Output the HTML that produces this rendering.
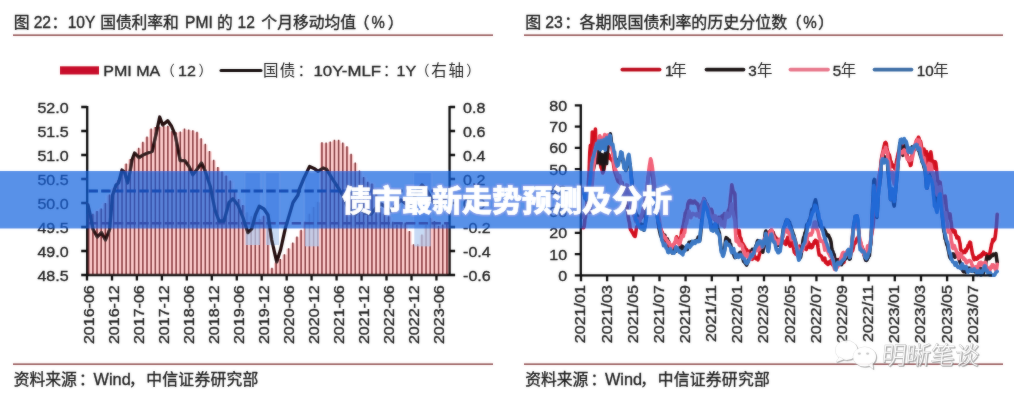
<!DOCTYPE html>
<html lang="zh-CN">
<head>
<meta charset="utf-8">
<title>债市最新走势预测及分析</title>
<style>
html,body{margin:0;padding:0;background:#fff;}
body{width:1014px;height:400px;overflow:hidden;font-family:"Liberation Sans",sans-serif;}
#page{position:relative;width:1014px;height:400px;overflow:hidden;background:#fff;}
svg{display:block;position:absolute;left:0;top:0;will-change:transform;}
svg text{font-family:"Liberation Sans",sans-serif;stroke:#242424;stroke-width:.35px;}
svg text.cjk{font-family:"Liberation Sans","Noto Sans CJK SC",sans-serif;}
</style>
</head>
<body>
<div id="page">
<svg width="1014" height="400" viewBox="0 0 1014 400" font-family="'Liberation Sans', sans-serif"><defs><filter id="soft" filterUnits="userSpaceOnUse" x="-10" y="-10" width="1034" height="420"><feGaussianBlur stdDeviation="0.8" result="b"/><feComposite in="SourceGraphic" in2="b" operator="arithmetic" k1="0" k2="0.68" k3="0.32" k4="0"/></filter><filter id="wmsh" x="-10%" y="-20%" width="120%" height="150%"><feDropShadow dx="0.9" dy="0.9" stdDeviation="0.55" flood-color="#6e6e6e" flood-opacity="0.75"/></filter></defs><g filter="url(#soft)"><text class="cjk" x="13.65" y="28.30" font-size="15.8" fill="#242424">图</text>
<text x="33.70" y="28.30" font-size="15.60" fill="#242424">22</text>
<text class="cjk" x="51.58" y="28.30" font-size="15.8" fill="#242424">：</text>
<text x="67.70" y="28.30" font-size="15.60" fill="#242424">10Y</text>
<text class="cjk" x="100.20 115.90 131.60 147.30 163.00" y="28.30" font-size="15.8" fill="#242424">国债利率和</text>
<text x="185.10" y="28.30" font-size="15.60" fill="#242424">PMI</text>
<text class="cjk" x="217.12" y="28.30" font-size="15.8" fill="#242424">的</text>
<text x="237.50" y="28.30" font-size="15.60" fill="#242424">12</text>
<text class="cjk" x="261.33 277.13 292.93 308.73 324.53 340.33" y="28.30" font-size="15.8" fill="#242424">个月移动均值</text>
<text class="cjk" x="353.64" y="28.30" font-size="15.8" fill="#242424">（</text>
<text transform="translate(371.60 28.30) scale(0.960 1)" font-size="15.60" fill="#242424">%</text>
<text class="cjk" x="387.66" y="28.30" font-size="15.8" fill="#242424">）</text>
<text class="cjk" x="525.24" y="28.30" font-size="16" fill="#242424">图</text>
<text x="545.20" y="28.30" font-size="15.80" fill="#242424">23</text>
<text class="cjk" x="564.34" y="28.30" font-size="16" fill="#242424">：</text>
<text class="cjk" x="579.57 595.54 611.51 627.48 643.45 659.42 675.39 691.36 707.33 723.30 739.27 755.24 771.21" y="28.30" font-size="16" fill="#242424">各期限国债利率的历史分位数</text>
<text class="cjk" x="785.80" y="28.30" font-size="16" fill="#242424">（</text>
<text transform="translate(803.20 28.30) scale(0.960 1)" font-size="15.80" fill="#242424">%</text>
<text class="cjk" x="817.90" y="28.30" font-size="16" fill="#242424">）</text>
<path d="M13 35.2H493 M13 364.2H493" stroke="#7c2a2f" stroke-width="1.3" fill="none"/>
<path d="M524 35.2H1003 M524 364.2H1003" stroke="#7c2a2f" stroke-width="1.3" fill="none"/>
<text class="cjk" x="13.74 29.49 45.24 60.99" y="384.60" font-size="15.8" fill="#242424">资料来源</text>
<text class="cjk" x="79.08" y="384.60" font-size="15.8" fill="#242424">：</text>
<text x="93.60" y="384.60" font-size="16.30" fill="#242424">Wind</text>
<text class="cjk" x="128.88" y="384.60" font-size="15.8" fill="#242424">，</text>
<text class="cjk" x="146.23 162.28 178.33 194.38 210.43 226.48 242.53" y="384.60" font-size="15.8" fill="#242424">中信证券研究部</text>
<text class="cjk" x="525.14 540.89 556.64 572.39" y="384.60" font-size="15.8" fill="#242424">资料来源</text>
<text class="cjk" x="590.48" y="384.60" font-size="15.8" fill="#242424">：</text>
<text x="605.00" y="384.60" font-size="16.30" fill="#242424">Wind</text>
<text class="cjk" x="640.28" y="384.60" font-size="15.8" fill="#242424">，</text>
<text class="cjk" x="657.63 673.68 689.73 705.78 721.83 737.88 753.93" y="384.60" font-size="15.8" fill="#242424">中信证券研究部</text>
<path d="M87.5 275.0L86.6 214.0L90.8 214.0L90.8 214.4L94.9 214.4L95.0 211.6L99.1 211.6L99.1 209.2L103.3 209.2L103.3 203.6L107.4 203.6L107.4 195.2L111.6 195.2L111.6 188.4L115.8 188.4L115.8 180.8L119.9 180.8L119.9 170.4L124.1 170.4L124.1 164.0L128.3 164.0L128.3 159.6L132.4 159.6L132.4 155.2L136.6 155.2L136.6 148.4L140.8 148.4L140.8 142.4L144.9 142.4L144.9 137.2L149.1 137.2L149.1 129.2L153.3 129.2L153.3 127.6L157.4 127.6L157.4 127.2L161.6 127.2L161.6 126.4L165.8 126.4L165.8 126.4L169.9 126.4L169.9 131.6L174.1 131.6L174.1 132.8L178.2 132.8L178.2 132.0L182.4 132.0L182.4 129.2L186.6 129.2L186.6 130.0L190.7 130.0L190.7 130.8L194.9 130.8L194.9 132.4L199.1 132.4L199.1 138.8L203.2 138.8L203.2 144.4L207.4 144.4L207.4 151.6L211.6 151.6L211.6 160.4L215.7 160.4L215.7 167.6L219.9 167.6L219.9 172.0L224.1 172.0L224.1 176.0L228.2 176.0L228.2 181.2L232.4 181.2L232.4 191.2L236.6 191.2L236.6 199.6L240.7 199.6L240.7 205.6L244.9 205.6L244.9 212.8L249.1 212.8L249.1 216.8L253.2 216.8L253.2 220.4L257.4 220.4L257.4 219.6L261.5 219.6L261.6 216.4L265.7 216.4L265.7 214.4L269.9 214.4L269.9 268.4L274.0 268.4L274.0 262.4L278.2 262.4L278.2 259.6L282.4 259.6L282.4 254.8L286.5 254.8L286.5 248.8L290.7 248.8L290.7 243.2L294.9 243.2L294.9 237.2L299.0 237.2L299.0 230.4L303.2 230.4L303.2 222.0L307.4 222.0L307.4 214.4L311.5 214.4L311.5 207.6L315.7 207.6L315.7 202.4L319.9 202.4L319.9 142.8L324.0 142.8L324.0 143.2L328.2 143.2L328.2 142.0L332.3 142.0L332.4 140.4L336.5 140.4L336.5 140.4L340.7 140.4L340.7 143.2L344.8 143.2L344.9 146.8L349.0 146.8L349.0 154.4L353.2 154.4L353.2 163.2L357.3 163.2L357.3 171.2L361.5 171.2L361.5 177.6L365.7 177.6L365.7 182.4L369.8 182.4L369.8 184.0L374.0 184.0L374.0 193.6L378.2 193.6L378.2 208.4L382.3 208.4L382.3 214.0L386.5 214.0L386.5 216.8L390.7 216.8L390.7 222.4L394.8 222.4L394.8 225.2L399.0 225.2L399.0 223.2L403.2 223.2L403.2 223.2L407.3 223.2L407.3 231.6L411.5 231.6L411.5 244.8L415.6 244.8L415.7 244.8L419.8 244.8L419.8 235.2L424.0 235.2L424.0 225.6L428.1 225.6L428.2 218.4L432.3 218.4L432.3 221.6L436.5 221.6L436.5 226.4L440.6 226.4L440.6 225.2L444.8 225.2L444.8 224.0L449.0 224.0L449.0 275.0Z" fill="#fccaca"/>
<path d="M88.70 275.0V213.4M92.87 275.0V213.8M97.03 275.0V211.0M101.20 275.0V208.6M105.36 275.0V203.0M109.53 275.0V194.6M113.69 275.0V187.8M117.86 275.0V180.2M122.02 275.0V169.8M126.19 275.0V163.4M130.35 275.0V159.0M134.51 275.0V154.6M138.68 275.0V147.8M142.84 275.0V141.8M147.01 275.0V136.6M151.18 275.0V128.6M155.34 275.0V127.0M159.50 275.0V126.6M163.67 275.0V125.8M167.84 275.0V125.8M172.00 275.0V131.0M176.17 275.0V132.2M180.33 275.0V131.4M184.50 275.0V128.6M188.66 275.0V129.4M192.82 275.0V130.2M196.99 275.0V131.8M201.16 275.0V138.2M205.32 275.0V143.8M209.49 275.0V151.0M213.65 275.0V159.8M217.81 275.0V167.0M221.98 275.0V171.4M226.14 275.0V175.4M230.31 275.0V180.6M234.48 275.0V190.6M238.64 275.0V199.0M242.81 275.0V205.0M246.97 275.0V212.2M251.13 275.0V216.2M255.30 275.0V219.8M259.47 275.0V219.0M263.63 275.0V215.8M267.80 275.0V213.8M271.96 275.0V267.8M276.12 275.0V261.8M280.29 275.0V259.0M284.45 275.0V254.2M288.62 275.0V248.2M292.79 275.0V242.6M296.95 275.0V236.6M301.12 275.0V229.8M305.28 275.0V221.4M309.44 275.0V213.8M313.61 275.0V207.0M317.77 275.0V201.8M321.94 275.0V142.2M326.11 275.0V142.6M330.27 275.0V141.4M334.44 275.0V139.8M338.60 275.0V139.8M342.76 275.0V142.6M346.93 275.0V146.2M351.09 275.0V153.8M355.26 275.0V162.6M359.43 275.0V170.6M363.59 275.0V177.0M367.75 275.0V181.8M371.92 275.0V183.4M376.08 275.0V193.0M380.25 275.0V207.8M384.41 275.0V213.4M388.58 275.0V216.2M392.75 275.0V221.8M396.91 275.0V224.6M401.07 275.0V222.6M405.24 275.0V222.6M409.40 275.0V231.0M413.57 275.0V244.2M417.74 275.0V244.2M421.90 275.0V234.6M426.06 275.0V225.0M430.23 275.0V217.8M434.39 275.0V221.0M438.56 275.0V225.8M442.72 275.0V224.6M446.89 275.0V223.4" stroke="#7c1c24" stroke-width="1.45" fill="none"/>
<rect x="245.5" y="173" width="14.5" height="72" fill="#b4cdf0" fill-opacity="0.74"/>
<rect x="266" y="173" width="13" height="72" fill="#b4cdf0" fill-opacity="0.74"/>
<rect x="305" y="173" width="14" height="73.4" fill="#b4cdf0" fill-opacity="0.74"/>
<rect x="414.3" y="173" width="16.5" height="73.4" fill="#b4cdf0" fill-opacity="0.74"/>
<path d="M88.5 191H449" stroke="#0a1a55" stroke-width="3.1" stroke-dasharray="9.4 3.3" fill="none"/>
<path d="M88.5 223.2H449" stroke="#7a1f3c" stroke-width="2.6" stroke-dasharray="9.4 3.3" fill="none"/>
<path d="M88.0 205.0L90.5 216.0L93.1 229.5L97.3 237.0L101.4 232.5L105.5 240.0L109.6 229.5L112.6 195.0L116.0 185.0L118.5 183.0L122.0 170.0L124.5 172.0L127.6 183.0L130.0 172.0L132.0 160.0L134.6 153.0L139.0 157.6L143.0 155.0L147.7 153.0L152.2 151.4L156.4 132.6L159.7 117.0L162.7 125.0L167.7 120.8L171.5 126.3L175.2 135.0L180.2 160.6L184.7 160.6L189.0 166.4L192.8 174.7L197.3 169.0L201.5 163.0L204.8 170.0L210.3 186.4L215.0 210.0L219.0 221.0L224.0 221.0L229.0 202.5L232.9 198.8L237.9 205.0L242.9 217.5L247.9 232.6L251.7 228.8L255.4 215.0L259.2 206.3L264.0 209.0L268.0 215.0L271.7 240.0L276.7 262.0L280.5 250.0L285.5 227.6L293.0 202.5L298.0 195.0L299.0 190.0L304.0 178.0L309.6 166.4L314.0 168.4L318.0 171.4L323.0 168.0L326.6 169.4L331.6 177.7L339.0 189.0L343.0 196.0L347.0 206.0L351.0 212.0L356.0 214.0L360.0 209.0L365.0 213.0L371.0 214.0L376.0 208.0L381.0 204.0L386.0 207.0L391.0 211.0L396.0 205.0L401.0 200.0L406.0 204.0L410.0 207.0L414.0 198.0L418.0 190.0L422.0 185.0L426.0 189.0L430.0 196.0L434.0 203.0L438.0 204.0L442.0 200.0L446.0 198.0" stroke="#220d0f" stroke-width="3.3" stroke-linejoin="round" stroke-linecap="round" fill="none"/>
<path d="M87.2 106.0V276.0M81.2 107.0H87.2M81.2 131.0H87.2M81.2 155.0H87.2M81.2 179.0H87.2M81.2 203.0H87.2M81.2 227.0H87.2M81.2 251.0H87.2M81.2 275.0H87.2M449.6 106.0V276.0M449.6 107.0H455.1M449.6 131.0H455.1M449.6 155.0H455.1M449.6 179.0H455.1M449.6 203.0H455.1M449.6 227.0H455.1M449.6 251.0H455.1M449.6 275.0H455.1M86.2 275.0H450.6M87.0 275.0V280.6M112.0 275.0V280.6M136.9 275.0V280.6M161.9 275.0V280.6M186.8 275.0V280.6M211.8 275.0V280.6M236.8 275.0V280.6M261.7 275.0V280.6M286.7 275.0V280.6M311.6 275.0V280.6M336.6 275.0V280.6M361.6 275.0V280.6M386.5 275.0V280.6M411.5 275.0V280.6M436.4 275.0V280.6" stroke="#0a0a0a" stroke-width="2.3" fill="none"/>
<text transform="translate(68.60 112.60) scale(1.070 1)" font-size="15.00" text-anchor="end" fill="#242424">52.0</text>
<text transform="translate(68.60 136.60) scale(1.070 1)" font-size="15.00" text-anchor="end" fill="#242424">51.5</text>
<text transform="translate(68.60 160.60) scale(1.070 1)" font-size="15.00" text-anchor="end" fill="#242424">51.0</text>
<text transform="translate(68.60 184.60) scale(1.070 1)" font-size="15.00" text-anchor="end" fill="#242424">50.5</text>
<text transform="translate(68.60 208.60) scale(1.070 1)" font-size="15.00" text-anchor="end" fill="#242424">50.0</text>
<text transform="translate(68.60 232.60) scale(1.070 1)" font-size="15.00" text-anchor="end" fill="#242424">49.5</text>
<text transform="translate(68.60 256.60) scale(1.070 1)" font-size="15.00" text-anchor="end" fill="#242424">49.0</text>
<text transform="translate(68.60 280.60) scale(1.070 1)" font-size="15.00" text-anchor="end" fill="#242424">48.5</text>
<text transform="translate(463.10 112.60) scale(1.070 1)" font-size="15.00" text-anchor="start" fill="#242424">0.8</text>
<text transform="translate(463.10 136.60) scale(1.070 1)" font-size="15.00" text-anchor="start" fill="#242424">0.6</text>
<text transform="translate(463.10 160.60) scale(1.070 1)" font-size="15.00" text-anchor="start" fill="#242424">0.4</text>
<text transform="translate(463.10 184.60) scale(1.070 1)" font-size="15.00" text-anchor="start" fill="#242424">0.2</text>
<text transform="translate(463.10 208.60) scale(1.070 1)" font-size="15.00" text-anchor="start" fill="#242424">0.0</text>
<text transform="translate(463.10 232.60) scale(1.070 1)" font-size="15.00" text-anchor="start" fill="#242424">-0.2</text>
<text transform="translate(463.10 256.60) scale(1.070 1)" font-size="15.00" text-anchor="start" fill="#242424">-0.4</text>
<text transform="translate(463.10 280.60) scale(1.070 1)" font-size="15.00" text-anchor="start" fill="#242424">-0.6</text>
<text transform="translate(94.30 285.20) rotate(-90) scale(1.07 1)" stroke-width="0.2" font-size="15.0" text-anchor="end" fill="#242424">2016-06</text>
<text transform="translate(119.26 285.20) rotate(-90) scale(1.07 1)" stroke-width="0.2" font-size="15.0" text-anchor="end" fill="#242424">2016-12</text>
<text transform="translate(144.22 285.20) rotate(-90) scale(1.07 1)" stroke-width="0.2" font-size="15.0" text-anchor="end" fill="#242424">2017-06</text>
<text transform="translate(169.18 285.20) rotate(-90) scale(1.07 1)" stroke-width="0.2" font-size="15.0" text-anchor="end" fill="#242424">2017-12</text>
<text transform="translate(194.14 285.20) rotate(-90) scale(1.07 1)" stroke-width="0.2" font-size="15.0" text-anchor="end" fill="#242424">2018-06</text>
<text transform="translate(219.10 285.20) rotate(-90) scale(1.07 1)" stroke-width="0.2" font-size="15.0" text-anchor="end" fill="#242424">2018-12</text>
<text transform="translate(244.06 285.20) rotate(-90) scale(1.07 1)" stroke-width="0.2" font-size="15.0" text-anchor="end" fill="#242424">2019-06</text>
<text transform="translate(269.02 285.20) rotate(-90) scale(1.07 1)" stroke-width="0.2" font-size="15.0" text-anchor="end" fill="#242424">2019-12</text>
<text transform="translate(293.98 285.20) rotate(-90) scale(1.07 1)" stroke-width="0.2" font-size="15.0" text-anchor="end" fill="#242424">2020-06</text>
<text transform="translate(318.94 285.20) rotate(-90) scale(1.07 1)" stroke-width="0.2" font-size="15.0" text-anchor="end" fill="#242424">2020-12</text>
<text transform="translate(343.90 285.20) rotate(-90) scale(1.07 1)" stroke-width="0.2" font-size="15.0" text-anchor="end" fill="#242424">2021-06</text>
<text transform="translate(368.86 285.20) rotate(-90) scale(1.07 1)" stroke-width="0.2" font-size="15.0" text-anchor="end" fill="#242424">2021-12</text>
<text transform="translate(393.82 285.20) rotate(-90) scale(1.07 1)" stroke-width="0.2" font-size="15.0" text-anchor="end" fill="#242424">2022-06</text>
<text transform="translate(418.78 285.20) rotate(-90) scale(1.07 1)" stroke-width="0.2" font-size="15.0" text-anchor="end" fill="#242424">2022-12</text>
<text transform="translate(443.74 285.20) rotate(-90) scale(1.07 1)" stroke-width="0.2" font-size="15.0" text-anchor="end" fill="#242424">2023-06</text>
<rect x="60" y="66.3" width="39" height="8.2" fill="#c8102a"/>
<text transform="translate(103.30 75.70) scale(1.070 1)" font-size="15.00" fill="#242424">PMI MA</text>
<text class="cjk" x="160.67" y="75.10" font-size="14" fill="#242424" style="stroke:none">（</text>
<text class="cjk" x="198.53" y="75.10" font-size="14" fill="#242424" style="stroke:none">）</text>
<text transform="translate(178.00 75.70) scale(1.070 1)" font-size="15.00" fill="#242424">12</text>
<path d="M221 70.6H261" stroke="#141010" stroke-width="3" stroke-linecap="round" fill="none"/>
<text class="cjk" x="262.97 279.73" y="75.70" font-size="15.5" fill="#242424" style="stroke:none">国债</text>
<text class="cjk" x="297.50" y="75.70" font-size="15.5" fill="#242424" style="stroke:none">：</text>
<text class="cjk" x="382.70" y="75.70" font-size="15.5" fill="#242424" style="stroke:none">：</text>
<text class="cjk" x="415.47" y="75.10" font-size="14" fill="#242424" style="stroke:none">（</text>
<text class="cjk" x="431.22 448.52" y="75.70" font-size="15.5" fill="#242424" style="stroke:none">右轴</text>
<text class="cjk" x="466.23" y="75.10" font-size="14" fill="#242424" style="stroke:none">）</text>
<text transform="translate(313.50 75.70) scale(1.120 1)" font-size="15.00" fill="#242424">10Y-MLF</text>
<text transform="translate(396.50 75.70) scale(1.070 1)" font-size="15.00" fill="#242424">1Y</text>
<path d="M583.0 227.6L583.6 227.7L584.2 226.5L584.9 219.0L585.5 216.9L586.1 209.6L586.7 207.4L587.3 197.8L588.0 191.7L588.6 179.6L589.2 169.5L589.8 152.3L590.4 145.4L591.1 159.0L591.7 148.4L592.3 132.1L592.9 148.3L593.5 132.2L594.2 139.2L594.8 145.6L595.4 129.0L596.0 148.3L596.6 149.5L597.3 140.3L597.9 155.9L598.5 158.6L599.1 160.8L599.7 161.6L600.4 164.2L601.0 167.2L601.6 168.2L602.2 170.8L602.8 172.9L603.5 171.3L604.1 167.7L604.7 164.6L605.3 159.8L605.9 158.1L606.6 157.5L607.2 154.8L607.8 154.7L608.4 154.3L609.0 154.9L609.7 158.5L610.3 158.3L610.9 158.9L611.5 159.1L612.1 160.6L612.8 159.1L613.4 163.7L614.0 167.4L614.6 171.4L615.2 173.2L615.9 175.3L616.5 176.8L617.1 178.8L617.7 180.4L618.3 181.6L619.0 181.5L619.6 182.6L620.2 181.6L620.8 183.6L621.4 183.1L622.1 182.6L622.7 186.3L623.3 188.7L623.9 192.8L624.5 195.4L625.2 198.2L625.8 197.1L626.4 201.2L627.0 206.9L627.6 212.4L628.3 217.2L628.9 220.8L629.5 222.7L630.1 228.1L630.7 229.9L631.4 230.1L632.0 232.1L632.6 232.6L633.2 234.0L633.8 235.1L634.5 236.1L635.1 236.4L635.7 233.1L636.3 229.0L636.9 226.8L637.6 225.5L638.2 225.4L638.8 224.4L639.4 221.5L640.0 219.1L640.7 216.9L641.3 217.7L641.9 217.1L642.5 215.8L643.1 212.8L643.8 208.8L644.4 206.7L645.0 204.2L645.6 204.4L646.2 200.7L646.9 193.2L647.5 183.9L648.1 177.9L648.7 175.2L649.3 170.4L650.0 167.8L650.6 163.5L651.2 163.7L651.8 168.8L652.4 175.7L653.1 180.6L653.7 189.2L654.3 192.1L654.9 197.7L655.5 200.7L656.2 207.9L656.8 211.0L657.4 214.4L658.0 218.0L658.6 224.3L659.3 228.4L659.9 225.3L660.5 228.6L661.1 229.4L661.7 231.5L662.4 232.5L663.0 236.4L663.6 235.8L664.2 236.7L664.8 237.4L665.5 240.4L666.1 241.9L666.7 241.9L667.3 244.9L667.9 245.4L668.6 249.2L669.2 248.4L669.8 248.0L670.4 247.2L671.0 249.2L671.7 248.9L672.3 248.4L672.9 246.7L673.5 245.3L674.1 244.5L674.8 242.8L675.4 242.1L676.0 240.1L676.6 236.8L677.2 238.8L677.9 238.6L678.5 239.1L679.1 240.7L679.7 242.8L680.3 240.3L681.0 236.6L681.6 231.7L682.2 229.8L682.8 226.6L683.4 225.0L684.1 220.5L684.7 217.2L685.3 213.0L685.9 212.6L686.5 210.4L687.2 210.8L687.8 204.2L688.4 202.6L689.0 201.1L689.6 203.0L690.3 200.6L690.9 201.1L691.5 201.1L692.1 202.8L692.7 201.5L693.4 202.9L694.0 202.0L694.6 201.1L695.2 202.3L695.8 202.2L696.5 203.7L697.1 203.4L697.7 204.0L698.3 206.1L698.9 208.8L699.6 211.9L700.2 213.9L700.8 211.3L701.4 206.7L702.0 204.2L702.7 202.5L703.3 201.1L703.9 198.7L704.5 201.8L705.1 202.6L705.8 204.0L706.4 206.7L707.0 207.7L707.6 211.3L708.2 210.5L708.9 213.5L709.5 210.8L710.1 209.7L710.7 209.2L711.3 209.3L712.0 210.9L712.6 215.6L713.2 215.3L713.8 215.9L714.4 219.5L715.1 219.1L715.7 219.4L716.3 222.3L716.9 223.0L717.5 220.5L718.2 220.7L718.8 217.2L719.4 218.6L720.0 217.8L720.6 219.0L721.3 217.5L721.9 216.1L722.5 219.4L723.1 215.7L723.7 215.2L724.4 213.7L725.0 214.5L725.6 215.2L726.2 215.2L726.8 214.4L727.5 214.3L728.1 211.3L728.7 209.7L729.3 209.1L729.9 205.1L730.6 196.9L731.2 192.1L731.8 184.9L732.4 187.8L733.0 190.8L733.7 192.2L734.3 192.7L734.9 194.2L735.5 211.9L736.1 229.1L736.8 233.1L737.4 231.9L738.0 232.5L738.6 232.8L739.2 230.6L739.9 237.2L740.5 237.8L741.1 239.2L741.7 243.2L742.3 243.0L743.0 244.0L743.6 244.8L744.2 247.3L744.8 247.0L745.4 249.9L746.1 249.1L746.7 249.9L747.3 251.5L747.9 251.3L748.5 251.8L749.2 251.9L749.8 251.1L750.4 252.8L751.0 255.6L751.6 257.1L752.3 259.4L752.9 256.8L753.5 255.8L754.1 254.4L754.7 257.9L755.4 257.5L756.0 258.6L756.6 257.7L757.2 258.6L757.8 259.8L758.5 258.5L759.1 255.6L759.7 253.7L760.3 250.5L760.9 247.7L761.6 243.5L762.2 245.1L762.8 245.3L763.4 245.8L764.0 244.8L764.7 242.5L765.3 241.8L765.9 238.9L766.5 236.9L767.1 234.6L767.8 233.1L768.4 234.5L769.0 235.7L769.6 231.5L770.2 231.2L770.9 230.3L771.5 230.3L772.1 231.8L772.7 232.0L773.3 232.7L774.0 235.3L774.6 235.6L775.2 237.8L775.8 237.5L776.4 239.0L777.1 238.8L777.7 244.0L778.3 243.3L778.9 242.8L779.5 241.7L780.2 240.7L780.8 240.5L781.4 241.1L782.0 240.4L782.6 241.7L783.3 241.0L783.9 242.7L784.5 243.5L785.1 242.2L785.7 244.4L786.4 240.5L787.0 239.4L787.6 237.4L788.2 240.8L788.8 241.5L789.5 245.0L790.1 246.1L790.7 243.7L791.3 242.0L791.9 243.5L792.6 244.3L793.2 246.1L793.8 249.5L794.4 252.5L795.0 252.2L795.7 254.2L796.3 254.5L796.9 254.7L797.5 251.9L798.1 249.3L798.8 247.2L799.4 246.1L800.0 248.5L800.6 249.3L801.2 248.9L801.9 250.6L802.5 249.5L803.1 248.9L803.7 248.8L804.3 247.7L805.0 248.2L805.6 248.7L806.2 249.5L806.8 248.0L807.4 242.4L808.1 241.8L808.7 243.1L809.3 245.8L809.9 247.4L810.5 244.4L811.2 247.7L811.8 247.5L812.4 247.1L813.0 244.8L813.6 243.9L814.3 241.6L814.9 242.6L815.5 240.3L816.1 243.0L816.7 241.4L817.4 241.3L818.0 247.5L818.6 251.4L819.2 254.9L819.8 254.8L820.5 255.6L821.1 255.9L821.7 256.7L822.3 258.4L822.9 259.9L823.6 259.0L824.2 259.2L824.8 258.1L825.4 262.3L826.0 261.4L826.7 263.5L827.3 262.4L827.9 264.5L828.5 262.3L829.1 263.7L829.8 261.6L830.4 262.4L831.0 260.4L831.6 262.8L832.2 264.1L832.9 265.1L833.5 263.8L834.1 264.3L834.7 261.5L835.3 262.0L836.0 262.4L836.6 262.1L837.2 259.7L837.8 261.6L838.4 263.2L839.1 263.3L839.7 262.9L840.3 262.2L840.9 261.7L841.5 262.0L842.2 261.9L842.8 260.2L843.4 262.6L844.0 262.2L844.6 258.1L845.3 255.5L845.9 257.1L846.5 254.4L847.1 253.1L847.7 254.2L848.4 254.3L849.0 254.2L849.6 254.8L850.2 253.3L850.8 250.7L851.5 250.0L852.1 251.4L852.7 250.4L853.3 247.6L853.9 244.7L854.6 242.3L855.2 243.2L855.8 242.0L856.4 239.7L857.0 238.4L857.7 239.0L858.3 236.7L858.9 238.9L859.5 239.3L860.1 242.6L860.8 243.1L861.4 246.7L862.0 246.7L862.6 249.7L863.2 250.7L863.9 250.9L864.5 254.1L865.1 253.8L865.7 255.4L866.3 256.3L867.0 253.7L867.6 252.4L868.2 251.5L868.8 249.4L869.4 249.8L870.1 247.6L870.7 241.7L871.3 236.4L871.9 232.7L872.5 229.6L873.2 224.1L873.8 216.9L874.4 212.1L875.0 205.7L875.6 199.6L876.3 196.5L876.9 190.7L877.5 186.8L878.1 181.5L878.7 178.2L879.4 176.0L880.0 171.0L880.6 166.8L881.2 160.7L881.8 156.5L882.5 153.3L883.1 151.3L883.7 147.9L884.3 145.8L884.9 143.0L885.6 142.5L886.2 143.3L886.8 147.3L887.4 150.7L888.0 152.5L888.7 155.1L889.3 154.9L889.9 157.4L890.5 161.4L891.1 161.5L891.8 165.3L892.4 166.7L893.0 165.0L893.6 166.6L894.2 167.1L894.9 168.9L895.5 166.9L896.1 164.1L896.7 160.2L897.3 157.6L898.0 153.8L898.6 151.8L899.2 150.5L899.8 149.2L900.4 149.3L901.1 148.2L901.7 148.9L902.3 146.5L902.9 145.5L903.5 148.2L904.2 149.5L904.8 152.0L905.4 152.6L906.0 151.0L906.6 151.9L907.3 156.2L907.9 157.7L908.5 159.7L909.1 162.2L909.7 162.4L910.4 165.5L911.0 164.9L911.6 160.8L912.2 154.1L912.8 152.3L913.5 150.5L914.1 147.5L914.7 145.7L915.3 145.2L915.9 142.7L916.6 140.1L917.2 140.9L917.8 138.9L918.4 137.3L919.0 138.3L919.7 142.5L920.3 140.9L920.9 142.8L921.5 146.8L922.1 152.2L922.8 156.2L923.4 152.5L924.0 149.1L924.6 152.2L925.2 162.7L925.9 157.1L926.5 151.6L927.1 157.5L927.7 165.5L928.3 158.8L929.0 154.3L929.6 163.0L930.2 160.8L930.8 151.8L931.4 155.6L932.1 162.8L932.7 162.6L933.3 161.1L933.9 166.9L934.5 168.2L935.2 161.9L935.8 163.1L936.4 168.2L937.0 175.1L937.6 180.6L938.3 184.5L938.9 182.2L939.5 181.9L940.1 182.3L940.7 187.2L941.4 192.6L942.0 199.3L942.6 202.8L943.2 202.5L943.8 197.7L944.5 196.3L945.1 196.1L945.7 200.8L946.3 207.9L946.9 210.8L947.6 217.1L948.2 218.0L948.8 217.9L949.4 215.8L950.0 213.9L950.7 220.0L951.3 223.3L951.9 230.4L952.5 231.0L953.1 231.8L953.8 230.2L954.4 232.4L955.0 230.9L955.6 234.6L956.2 235.4L956.9 238.0L957.5 236.7L958.1 237.2L958.7 237.6L959.3 241.0L960.0 243.5L960.6 249.9L961.2 250.0L961.8 252.0L962.4 253.1L963.1 252.3L963.7 251.6L964.3 251.1L964.9 252.5L965.5 249.8L966.2 251.0L966.8 248.6L967.4 248.7L968.0 245.5L968.6 246.4L969.3 243.3L969.9 242.2L970.5 242.5L971.1 246.7L971.7 249.6L972.4 253.8L973.0 255.2L973.6 258.5L974.2 259.7L974.8 258.5L975.5 257.7L976.1 258.1L976.7 259.1L977.3 258.3L977.9 258.5L978.6 256.3L979.2 255.9L979.8 257.0L980.4 257.0L981.0 254.9L981.7 256.0L982.3 253.5L982.9 254.5L983.5 252.2L984.1 253.0L984.8 253.7L985.4 253.8L986.0 255.0L986.6 254.0L987.2 255.6L987.9 256.3L988.5 256.0L989.1 254.5L989.7 254.2L990.3 250.6L991.0 247.8L991.6 244.1L992.2 242.6L992.8 239.5L993.4 241.1L994.1 239.9L994.7 239.3L995.3 236.1L995.9 230.7L996.5 225.1L997.2 214.4" stroke="#d3111f" stroke-width="3.6" stroke-linejoin="round" stroke-linecap="round" fill="none"/>
<path d="M583.0 191.2L583.6 193.1L584.2 192.9L584.9 197.7L585.5 196.0L586.1 198.0L586.7 200.4L587.3 198.0L588.0 195.7L588.6 193.4L589.2 191.6L589.8 190.0L590.4 184.4L591.1 179.5L591.7 177.0L592.3 172.1L592.9 169.9L593.5 169.0L594.2 165.5L594.8 163.2L595.4 159.4L596.0 160.5L596.6 162.3L597.3 162.6L597.9 159.3L598.5 153.2L599.1 149.4L599.7 156.7L600.4 163.8L601.0 161.4L601.6 154.5L602.2 155.6L602.8 159.6L603.5 169.8L604.1 162.7L604.7 155.3L605.3 153.3L605.9 158.2L606.6 163.5L607.2 155.9L607.8 149.0L608.4 145.5L609.0 139.8L609.7 137.7L610.3 133.9L610.9 137.3L611.5 143.1L612.1 145.7L612.8 149.3L613.4 153.7L614.0 158.1L614.6 157.0L615.2 158.9L615.9 160.9L616.5 162.0L617.1 163.1L617.7 161.8L618.3 159.8L619.0 159.8L619.6 158.2L620.2 159.6L620.8 157.0L621.4 157.5L622.1 158.3L622.7 158.5L623.3 162.6L623.9 164.2L624.5 165.3L625.2 168.7L625.8 170.5L626.4 168.2L627.0 166.5L627.6 162.6L628.3 160.5L628.9 157.1L629.5 163.4L630.1 164.2L630.7 170.9L631.4 177.3L632.0 182.2L632.6 190.9L633.2 196.9L633.8 202.5L634.5 207.6L635.1 211.0L635.7 212.6L636.3 215.9L636.9 215.1L637.6 216.3L638.2 219.5L638.8 222.1L639.4 223.6L640.0 224.6L640.7 227.3L641.3 224.0L641.9 225.9L642.5 224.7L643.1 226.6L643.8 230.2L644.4 226.7L645.0 225.3L645.6 220.5L646.2 215.0L646.9 212.6L647.5 208.1L648.1 206.6L648.7 203.3L649.3 199.5L650.0 195.9L650.6 194.4L651.2 193.1L651.8 191.4L652.4 192.6L653.1 195.8L653.7 199.0L654.3 200.8L654.9 202.8L655.5 205.6L656.2 212.0L656.8 212.1L657.4 216.2L658.0 221.6L658.6 225.2L659.3 229.6L659.9 232.6L660.5 235.1L661.1 236.7L661.7 237.5L662.4 240.3L663.0 237.9L663.6 238.2L664.2 236.7L664.8 235.1L665.5 237.9L666.1 238.6L666.7 241.0L667.3 238.8L667.9 240.8L668.6 241.7L669.2 244.1L669.8 245.6L670.4 249.7L671.0 249.3L671.7 249.5L672.3 253.0L672.9 250.3L673.5 250.2L674.1 247.7L674.8 249.5L675.4 250.4L676.0 251.2L676.6 250.5L677.2 250.1L677.9 248.3L678.5 249.5L679.1 248.9L679.7 249.1L680.3 247.3L681.0 248.4L681.6 245.9L682.2 246.3L682.8 249.6L683.4 248.8L684.1 247.6L684.7 248.2L685.3 248.2L685.9 247.1L686.5 246.6L687.2 249.6L687.8 246.1L688.4 246.1L689.0 242.2L689.6 243.6L690.3 243.5L690.9 242.0L691.5 241.6L692.1 242.7L692.7 242.1L693.4 241.7L694.0 242.9L694.6 242.7L695.2 241.5L695.8 240.6L696.5 241.2L697.1 240.3L697.7 239.1L698.3 237.0L698.9 239.2L699.6 240.7L700.2 237.8L700.8 232.1L701.4 224.8L702.0 216.1L702.7 211.5L703.3 206.7L703.9 205.8L704.5 199.4L705.1 201.4L705.8 203.4L706.4 203.6L707.0 204.3L707.6 206.1L708.2 209.2L708.9 213.4L709.5 216.2L710.1 219.0L710.7 225.0L711.3 228.6L712.0 228.9L712.6 228.3L713.2 225.2L713.8 227.4L714.4 226.7L715.1 225.5L715.7 223.9L716.3 224.1L716.9 224.4L717.5 227.3L718.2 229.8L718.8 231.4L719.4 233.2L720.0 239.6L720.6 245.2L721.3 250.0L721.9 251.5L722.5 251.0L723.1 253.3L723.7 252.8L724.4 251.0L725.0 245.6L725.6 240.0L726.2 237.7L726.8 238.3L727.5 238.8L728.1 239.7L728.7 241.1L729.3 240.2L729.9 244.7L730.6 244.1L731.2 247.9L731.8 249.2L732.4 250.0L733.0 253.0L733.7 254.2L734.3 256.2L734.9 257.6L735.5 256.8L736.1 257.2L736.8 256.8L737.4 255.7L738.0 254.8L738.6 254.4L739.2 253.2L739.9 253.9L740.5 252.3L741.1 255.0L741.7 256.4L742.3 257.2L743.0 258.8L743.6 261.3L744.2 261.0L744.8 262.7L745.4 263.3L746.1 264.3L746.7 265.1L747.3 263.1L747.9 262.4L748.5 260.1L749.2 259.2L749.8 256.5L750.4 254.7L751.0 254.0L751.6 251.3L752.3 249.3L752.9 249.4L753.5 249.8L754.1 251.1L754.7 249.6L755.4 247.6L756.0 245.5L756.6 245.5L757.2 241.8L757.8 240.6L758.5 243.8L759.1 244.9L759.7 246.1L760.3 246.5L760.9 246.2L761.6 247.6L762.2 251.0L762.8 252.2L763.4 248.1L764.0 245.2L764.7 237.4L765.3 232.7L765.9 231.0L766.5 236.1L767.1 244.7L767.8 250.6L768.4 249.6L769.0 245.8L769.6 240.9L770.2 234.8L770.9 230.5L771.5 230.9L772.1 231.7L772.7 232.1L773.3 234.9L774.0 236.9L774.6 237.3L775.2 240.8L775.8 240.9L776.4 243.1L777.1 245.6L777.7 245.1L778.3 244.6L778.9 245.1L779.5 244.7L780.2 245.4L780.8 242.2L781.4 240.5L782.0 240.0L782.6 234.1L783.3 229.0L783.9 227.8L784.5 226.0L785.1 225.1L785.7 221.9L786.4 220.2L787.0 222.5L787.6 222.4L788.2 220.4L788.8 222.8L789.5 222.2L790.1 225.1L790.7 225.7L791.3 228.5L791.9 229.9L792.6 232.1L793.2 233.9L793.8 235.3L794.4 237.4L795.0 239.7L795.7 242.3L796.3 246.4L796.9 248.9L797.5 251.8L798.1 255.7L798.8 256.7L799.4 258.9L800.0 257.7L800.6 257.3L801.2 254.0L801.9 248.1L802.5 244.6L803.1 240.1L803.7 237.5L804.3 236.6L805.0 232.8L805.6 232.9L806.2 228.2L806.8 224.6L807.4 224.6L808.1 223.4L808.7 222.2L809.3 220.0L809.9 219.3L810.5 217.0L811.2 212.8L811.8 209.5L812.4 210.1L813.0 208.1L813.6 207.9L814.3 203.8L814.9 201.7L815.5 199.8L816.1 202.7L816.7 205.7L817.4 210.0L818.0 216.0L818.6 219.1L819.2 222.8L819.8 225.3L820.5 226.6L821.1 225.7L821.7 227.7L822.3 229.4L822.9 228.4L823.6 228.2L824.2 229.7L824.8 230.7L825.4 231.5L826.0 233.1L826.7 235.7L827.3 235.3L827.9 234.8L828.5 235.3L829.1 237.1L829.8 238.0L830.4 239.9L831.0 241.9L831.6 247.5L832.2 250.0L832.9 251.6L833.5 254.8L834.1 254.5L834.7 258.3L835.3 259.6L836.0 260.9L836.6 260.5L837.2 262.9L837.8 262.3L838.4 261.9L839.1 259.6L839.7 260.2L840.3 261.3L840.9 263.8L841.5 264.7L842.2 262.5L842.8 261.5L843.4 260.9L844.0 259.3L844.6 258.4L845.3 259.0L845.9 258.6L846.5 255.7L847.1 254.8L847.7 254.4L848.4 253.0L849.0 255.4L849.6 259.1L850.2 258.6L850.8 253.7L851.5 248.0L852.1 240.9L852.7 233.7L853.3 228.3L853.9 223.5L854.6 221.3L855.2 216.2L855.8 216.8L856.4 216.5L857.0 216.0L857.7 220.1L858.3 227.1L858.9 232.1L859.5 242.6L860.1 244.6L860.8 245.7L861.4 246.7L862.0 248.8L862.6 248.6L863.2 251.2L863.9 254.2L864.5 256.5L865.1 258.6L865.7 260.2L866.3 260.4L867.0 260.0L867.6 258.2L868.2 257.7L868.8 255.4L869.4 255.7L870.1 247.6L870.7 244.1L871.3 234.2L871.9 221.7L872.5 207.4L873.2 194.7L873.8 180.7L874.4 179.5L875.0 189.6L875.6 199.8L876.3 208.4L876.9 217.4L877.5 210.7L878.1 197.9L878.7 188.7L879.4 186.3L880.0 181.6L880.6 177.0L881.2 166.0L881.8 157.7L882.5 156.0L883.1 155.2L883.7 158.4L884.3 159.1L884.9 158.7L885.6 157.2L886.2 158.7L886.8 158.0L887.4 161.4L888.0 170.6L888.7 178.6L889.3 184.5L889.9 191.9L890.5 199.6L891.1 195.3L891.8 191.1L892.4 194.5L893.0 199.8L893.6 203.5L894.2 206.1L894.9 199.1L895.5 191.9L896.1 186.2L896.7 178.2L897.3 173.5L898.0 164.7L898.6 156.3L899.2 151.2L899.8 143.2L900.4 145.0L901.1 146.9L901.7 148.4L902.3 152.6L902.9 155.3L903.5 153.2L904.2 150.2L904.8 146.3L905.4 146.9L906.0 144.3L906.6 145.4L907.3 148.6L907.9 150.9L908.5 148.8L909.1 151.7L909.7 149.2L910.4 152.2L911.0 150.3L911.6 149.5L912.2 146.9L912.8 148.1L913.5 149.1L914.1 149.9L914.7 148.6L915.3 148.4L915.9 143.9L916.6 145.0L917.2 144.6L917.8 144.9L918.4 150.2L919.0 149.9L919.7 153.4L920.3 155.3L920.9 157.2L921.5 157.9L922.1 161.9L922.8 162.9L923.4 164.2L924.0 167.2L924.6 168.9L925.2 171.6L925.9 179.7L926.5 187.2L927.1 188.2L927.7 182.4L928.3 178.0L929.0 175.7L929.6 173.5L930.2 175.3L930.8 174.8L931.4 174.8L932.1 176.5L932.7 181.7L933.3 188.3L933.9 191.9L934.5 195.1L935.2 198.8L935.8 203.5L936.4 207.3L937.0 209.8L937.6 204.6L938.3 198.1L938.9 194.6L939.5 191.8L940.1 190.7L940.7 198.1L941.4 204.5L942.0 213.2L942.6 219.5L943.2 225.3L943.8 231.0L944.5 233.3L945.1 238.8L945.7 239.1L946.3 242.4L946.9 244.8L947.6 246.2L948.2 249.6L948.8 252.0L949.4 255.4L950.0 257.5L950.7 258.7L951.3 258.4L951.9 256.3L952.5 255.1L953.1 253.9L953.8 254.5L954.4 254.5L955.0 257.3L955.6 254.7L956.2 253.5L956.9 252.9L957.5 254.2L958.1 254.5L958.7 257.7L959.3 260.2L960.0 262.1L960.6 263.3L961.2 264.3L961.8 268.1L962.4 269.9L963.1 271.1L963.7 271.7L964.3 271.3L964.9 271.5L965.5 272.1L966.2 271.8L966.8 270.4L967.4 267.9L968.0 268.1L968.6 269.1L969.3 268.2L969.9 268.6L970.5 268.4L971.1 269.7L971.7 271.2L972.4 270.9L973.0 270.4L973.6 270.7L974.2 271.4L974.8 271.8L975.5 269.7L976.1 270.1L976.7 269.7L977.3 269.1L977.9 268.4L978.6 271.3L979.2 269.7L979.8 270.7L980.4 268.2L981.0 269.2L981.7 270.0L982.3 270.1L982.9 272.1L983.5 273.2L984.1 269.5L984.8 266.6L985.4 265.5L986.0 261.6L986.6 258.0L987.2 256.2L987.9 257.0L988.5 257.1L989.1 258.6L989.7 256.8L990.3 257.4L991.0 256.3L991.6 255.4L992.2 255.6L992.8 255.6L993.4 254.2L994.1 254.4L994.7 254.0L995.3 254.7L995.9 253.6L996.5 257.7L997.2 262.5" stroke="#1f1416" stroke-width="3.6" stroke-linejoin="round" stroke-linecap="round" fill="none"/>
<path d="M583.0 217.2L583.6 215.5L584.2 214.7L584.9 212.4L585.5 213.6L586.1 213.2L586.7 213.2L587.3 211.9L588.0 211.3L588.6 209.6L589.2 209.5L589.8 212.3L590.4 209.6L591.1 201.9L591.7 191.8L592.3 182.1L592.9 174.9L593.5 166.8L594.2 163.0L594.8 156.4L595.4 151.7L596.0 147.6L596.6 148.4L597.3 146.4L597.9 144.4L598.5 141.3L599.1 139.5L599.7 135.7L600.4 137.4L601.0 140.4L601.6 143.9L602.2 143.5L602.8 138.8L603.5 137.9L604.1 136.9L604.7 134.6L605.3 135.1L605.9 136.1L606.6 138.1L607.2 136.8L607.8 135.1L608.4 137.5L609.0 137.0L609.7 138.3L610.3 142.0L610.9 144.6L611.5 146.5L612.1 149.9L612.8 151.8L613.4 158.5L614.0 164.5L614.6 167.2L615.2 169.2L615.9 170.8L616.5 172.9L617.1 172.7L617.7 176.8L618.3 176.0L619.0 177.0L619.6 175.7L620.2 178.4L620.8 182.1L621.4 184.1L622.1 189.5L622.7 189.5L623.3 192.6L623.9 194.9L624.5 194.7L625.2 197.1L625.8 199.4L626.4 184.9L627.0 186.5L627.6 185.3L628.3 188.3L628.9 188.3L629.5 192.6L630.1 198.7L630.7 202.8L631.4 206.3L632.0 210.7L632.6 209.9L633.2 213.0L633.8 215.7L634.5 216.6L635.1 219.6L635.7 221.6L636.3 220.8L636.9 219.6L637.6 218.5L638.2 221.1L638.8 222.3L639.4 221.2L640.0 219.5L640.7 218.3L641.3 215.5L641.9 214.1L642.5 212.7L643.1 208.7L643.8 206.8L644.4 205.3L645.0 200.9L645.6 196.0L646.2 193.4L646.9 188.9L647.5 184.2L648.1 178.2L648.7 172.2L649.3 166.6L650.0 162.6L650.6 158.9L651.2 160.4L651.8 164.2L652.4 167.8L653.1 173.5L653.7 177.3L654.3 184.0L654.9 190.0L655.5 195.7L656.2 200.0L656.8 206.1L657.4 208.3L658.0 213.6L658.6 216.8L659.3 219.4L659.9 224.8L660.5 228.3L661.1 231.5L661.7 234.2L662.4 234.6L663.0 235.0L663.6 235.6L664.2 237.8L664.8 237.0L665.5 237.2L666.1 239.7L666.7 240.1L667.3 240.9L667.9 242.9L668.6 242.4L669.2 242.6L669.8 244.6L670.4 246.7L671.0 247.2L671.7 248.0L672.3 245.2L672.9 245.8L673.5 244.8L674.1 243.7L674.8 242.9L675.4 240.9L676.0 238.1L676.6 241.1L677.2 240.1L677.9 242.5L678.5 243.0L679.1 244.2L679.7 243.9L680.3 242.0L681.0 238.6L681.6 236.4L682.2 235.4L682.8 236.6L683.4 236.2L684.1 232.0L684.7 232.5L685.3 227.0L685.9 223.2L686.5 223.6L687.2 219.1L687.8 217.6L688.4 215.3L689.0 211.0L689.6 213.3L690.3 215.2L690.9 217.7L691.5 214.9L692.1 213.8L692.7 213.4L693.4 214.5L694.0 213.8L694.6 214.5L695.2 214.3L695.8 214.0L696.5 215.7L697.1 213.6L697.7 214.4L698.3 214.1L698.9 216.1L699.6 217.2L700.2 214.4L700.8 211.6L701.4 207.6L702.0 205.9L702.7 204.1L703.3 202.1L703.9 199.2L704.5 200.9L705.1 202.2L705.8 203.0L706.4 204.1L707.0 205.7L707.6 207.4L708.2 208.6L708.9 210.5L709.5 212.4L710.1 214.5L710.7 215.8L711.3 215.7L712.0 217.8L712.6 217.3L713.2 217.2L713.8 219.0L714.4 215.7L715.1 217.0L715.7 216.1L716.3 218.7L716.9 222.2L717.5 220.8L718.2 220.9L718.8 219.8L719.4 218.6L720.0 219.2L720.6 220.5L721.3 224.9L721.9 223.2L722.5 225.1L723.1 222.2L723.7 226.1L724.4 226.8L725.0 221.3L725.6 217.9L726.2 213.5L726.8 212.8L727.5 214.1L728.1 217.1L728.7 215.4L729.3 216.2L729.9 214.0L730.6 210.9L731.2 205.8L731.8 203.9L732.4 209.9L733.0 212.1L733.7 215.3L734.3 218.2L734.9 221.0L735.5 231.3L736.1 241.2L736.8 239.8L737.4 238.4L738.0 242.5L738.6 240.8L739.2 244.9L739.9 245.6L740.5 243.9L741.1 244.3L741.7 244.9L742.3 245.9L743.0 250.1L743.6 250.1L744.2 251.4L744.8 255.1L745.4 254.7L746.1 256.2L746.7 255.9L747.3 256.7L747.9 253.5L748.5 255.2L749.2 255.8L749.8 255.9L750.4 259.3L751.0 255.8L751.6 256.1L752.3 252.9L752.9 253.1L753.5 252.5L754.1 253.2L754.7 250.0L755.4 251.2L756.0 249.2L756.6 249.9L757.2 249.7L757.8 250.6L758.5 248.2L759.1 249.7L759.7 249.2L760.3 246.4L760.9 246.7L761.6 247.2L762.2 247.0L762.8 246.5L763.4 240.7L764.0 240.0L764.7 238.4L765.3 237.2L765.9 234.8L766.5 238.7L767.1 239.9L767.8 243.4L768.4 240.8L769.0 235.0L769.6 233.0L770.2 231.5L770.9 231.4L771.5 229.8L772.1 230.6L772.7 234.4L773.3 236.2L774.0 236.7L774.6 240.3L775.2 240.0L775.8 241.0L776.4 240.4L777.1 242.4L777.7 243.6L778.3 241.9L778.9 243.3L779.5 240.4L780.2 241.0L780.8 238.7L781.4 240.6L782.0 237.9L782.6 237.2L783.3 236.0L783.9 232.7L784.5 230.2L785.1 230.3L785.7 229.8L786.4 229.3L787.0 230.8L787.6 232.5L788.2 230.6L788.8 232.6L789.5 234.6L790.1 234.6L790.7 235.6L791.3 239.7L791.9 238.6L792.6 238.5L793.2 236.5L793.8 238.5L794.4 238.2L795.0 243.0L795.7 245.6L796.3 247.1L796.9 246.0L797.5 249.6L798.1 248.2L798.8 253.1L799.4 253.0L800.0 251.3L800.6 251.4L801.2 250.8L801.9 251.1L802.5 249.8L803.1 248.4L803.7 244.8L804.3 244.0L805.0 244.1L805.6 243.9L806.2 242.6L806.8 241.5L807.4 236.7L808.1 234.8L808.7 235.0L809.3 234.4L809.9 235.0L810.5 233.5L811.2 234.9L811.8 233.0L812.4 232.4L813.0 228.1L813.6 226.2L814.3 222.4L814.9 223.2L815.5 222.0L816.1 225.4L816.7 229.2L817.4 229.6L818.0 231.4L818.6 233.9L819.2 237.3L819.8 237.8L820.5 241.3L821.1 240.7L821.7 240.7L822.3 241.2L822.9 241.8L823.6 243.7L824.2 246.7L824.8 250.1L825.4 249.4L826.0 246.7L826.7 248.4L827.3 249.7L827.9 251.4L828.5 253.1L829.1 254.1L829.8 255.6L830.4 256.7L831.0 256.7L831.6 257.1L832.2 257.4L832.9 259.0L833.5 263.6L834.1 267.7L834.7 269.5L835.3 268.2L836.0 267.0L836.6 267.0L837.2 267.4L837.8 266.1L838.4 265.8L839.1 264.3L839.7 262.4L840.3 261.0L840.9 257.6L841.5 256.5L842.2 254.1L842.8 252.9L843.4 252.4L844.0 253.3L844.6 253.5L845.3 256.9L845.9 254.6L846.5 252.2L847.1 251.2L847.7 252.4L848.4 252.8L849.0 251.6L849.6 255.9L850.2 256.3L850.8 251.5L851.5 247.0L852.1 241.3L852.7 235.9L853.3 230.7L853.9 228.6L854.6 227.2L855.2 225.1L855.8 224.9L856.4 223.0L857.0 225.3L857.7 225.2L858.3 227.2L858.9 233.3L859.5 237.4L860.1 240.6L860.8 242.1L861.4 245.5L862.0 246.8L862.6 248.6L863.2 252.2L863.9 254.1L864.5 254.3L865.1 256.8L865.7 256.1L866.3 253.4L867.0 250.1L867.6 245.8L868.2 246.6L868.8 248.6L869.4 245.8L870.1 244.7L870.7 239.6L871.3 235.3L871.9 229.5L872.5 220.1L873.2 209.6L873.8 200.4L874.4 196.5L875.0 196.9L875.6 198.2L876.3 199.3L876.9 202.3L877.5 195.4L878.1 186.8L878.7 178.3L879.4 174.6L880.0 173.2L880.6 169.2L881.2 164.9L881.8 158.5L882.5 154.9L883.1 153.1L883.7 150.9L884.3 152.3L884.9 150.2L885.6 147.3L886.2 149.9L886.8 152.5L887.4 152.1L888.0 159.3L888.7 160.7L889.3 163.6L889.9 169.7L890.5 173.3L891.1 171.5L891.8 172.0L892.4 171.9L893.0 179.6L893.6 181.6L894.2 184.0L894.9 181.7L895.5 179.1L896.1 175.0L896.7 168.4L897.3 165.0L898.0 161.6L898.6 158.6L899.2 157.0L899.8 152.7L900.4 151.6L901.1 152.9L901.7 151.8L902.3 152.9L902.9 152.2L903.5 150.6L904.2 149.8L904.8 151.1L905.4 153.9L906.0 155.6L906.6 156.6L907.3 159.3L907.9 157.2L908.5 157.5L909.1 158.7L909.7 160.6L910.4 158.8L911.0 158.6L911.6 159.5L912.2 158.3L912.8 155.9L913.5 152.1L914.1 149.1L914.7 146.8L915.3 143.9L915.9 141.8L916.6 142.4L917.2 139.9L917.8 141.2L918.4 140.1L919.0 140.0L919.7 141.3L920.3 144.9L920.9 148.2L921.5 153.5L922.1 155.8L922.8 158.0L923.4 157.6L924.0 157.7L924.6 162.1L925.2 168.7L925.9 171.5L926.5 169.5L927.1 169.8L927.7 172.6L928.3 165.7L929.0 163.4L929.6 170.7L930.2 166.1L930.8 164.3L931.4 166.8L932.1 171.4L932.7 174.4L933.3 173.3L933.9 178.1L934.5 182.3L935.2 183.4L935.8 184.0L936.4 190.3L937.0 194.8L937.6 195.2L938.3 193.2L938.9 190.0L939.5 187.1L940.1 186.6L940.7 192.6L941.4 197.5L942.0 200.8L942.6 208.9L943.2 214.9L943.8 217.9L944.5 213.2L945.1 212.5L945.7 212.8L946.3 217.2L946.9 221.1L947.6 226.2L948.2 232.0L948.8 230.1L949.4 231.4L950.0 232.4L950.7 234.7L951.3 240.8L951.9 243.0L952.5 247.4L953.1 248.4L953.8 247.0L954.4 245.7L955.0 248.2L955.6 248.9L956.2 250.8L956.9 253.2L957.5 252.6L958.1 256.3L958.7 258.4L959.3 256.8L960.0 255.6L960.6 253.5L961.2 255.5L961.8 256.3L962.4 257.4L963.1 257.3L963.7 259.1L964.3 258.9L964.9 259.2L965.5 260.8L966.2 262.3L966.8 262.8L967.4 261.9L968.0 261.4L968.6 260.7L969.3 260.6L969.9 260.6L970.5 261.2L971.1 261.8L971.7 264.1L972.4 265.3L973.0 269.6L973.6 269.9L974.2 269.5L974.8 267.4L975.5 266.7L976.1 266.7L976.7 269.4L977.3 268.5L977.9 266.4L978.6 264.2L979.2 263.0L979.8 264.0L980.4 265.2L981.0 262.3L981.7 263.4L982.3 264.7L982.9 264.9L983.5 263.0L984.1 263.7L984.8 263.5L985.4 262.5L986.0 265.5L986.6 267.5L987.2 268.4L987.9 267.9L988.5 271.4L989.1 269.4L989.7 268.3L990.3 269.4L991.0 266.6L991.6 267.7L992.2 264.9L992.8 266.2L993.4 264.8L994.1 266.6L994.7 267.9L995.3 269.3L995.9 269.9L996.5 269.3L997.2 264.4" stroke="#f2637a" stroke-width="3.6" stroke-linejoin="round" stroke-linecap="round" fill="none"/>
<path d="M583.0 189.3L583.6 192.5L584.2 193.8L584.9 198.2L585.5 198.9L586.1 198.8L586.7 196.3L587.3 194.8L588.0 192.0L588.6 188.0L589.2 186.9L589.8 181.9L590.4 178.1L591.1 171.1L591.7 163.6L592.3 160.9L592.9 157.4L593.5 156.7L594.2 153.3L594.8 151.4L595.4 148.1L596.0 146.0L596.6 143.5L597.3 147.7L597.9 148.4L598.5 141.1L599.1 144.9L599.7 148.7L600.4 149.7L601.0 140.5L601.6 140.5L602.2 146.9L602.8 148.1L603.5 141.7L604.1 139.5L604.7 145.2L605.3 150.0L605.9 143.8L606.6 137.6L607.2 141.7L607.8 143.6L608.4 143.5L609.0 137.6L609.7 135.3L610.3 135.8L610.9 142.5L611.5 144.8L612.1 144.9L612.8 144.5L613.4 148.5L614.0 151.4L614.6 152.0L615.2 158.8L615.9 162.5L616.5 164.3L617.1 166.2L617.7 165.5L618.3 165.0L619.0 161.4L619.6 157.7L620.2 156.2L620.8 151.8L621.4 152.5L622.1 152.7L622.7 158.2L623.3 161.6L623.9 168.2L624.5 166.7L625.2 167.7L625.8 169.7L626.4 166.3L627.0 161.5L627.6 158.8L628.3 155.5L628.9 154.5L629.5 158.4L630.1 164.1L630.7 172.0L631.4 180.4L632.0 187.6L632.6 195.3L633.2 202.5L633.8 204.3L634.5 209.6L635.1 212.8L635.7 220.0L636.3 220.2L636.9 220.5L637.6 223.9L638.2 224.0L638.8 225.2L639.4 226.5L640.0 227.6L640.7 228.5L641.3 229.1L641.9 228.1L642.5 226.5L643.1 228.7L643.8 229.8L644.4 230.0L645.0 226.8L645.6 222.9L646.2 219.0L646.9 215.3L647.5 213.7L648.1 208.7L648.7 205.0L649.3 200.6L650.0 197.0L650.6 194.4L651.2 194.3L651.8 190.6L652.4 190.7L653.1 195.5L653.7 198.2L654.3 201.2L654.9 202.4L655.5 202.4L656.2 208.0L656.8 211.8L657.4 217.1L658.0 221.4L658.6 222.4L659.3 224.1L659.9 228.8L660.5 231.5L661.1 234.6L661.7 239.6L662.4 241.5L663.0 242.8L663.6 245.8L664.2 244.5L664.8 243.8L665.5 244.9L666.1 248.1L666.7 248.2L667.3 250.0L667.9 252.3L668.6 252.6L669.2 251.0L669.8 250.1L670.4 248.6L671.0 251.1L671.7 252.2L672.3 253.0L672.9 252.3L673.5 252.4L674.1 253.1L674.8 251.9L675.4 250.1L676.0 246.8L676.6 247.8L677.2 247.9L677.9 250.2L678.5 251.1L679.1 250.2L679.7 252.5L680.3 252.0L681.0 252.8L681.6 253.7L682.2 253.5L682.8 254.8L683.4 251.6L684.1 251.4L684.7 251.0L685.3 249.1L685.9 249.0L686.5 245.7L687.2 246.2L687.8 244.5L688.4 245.5L689.0 246.2L689.6 247.5L690.3 246.0L690.9 246.1L691.5 243.7L692.1 244.6L692.7 241.4L693.4 242.0L694.0 241.5L694.6 243.3L695.2 243.4L695.8 241.2L696.5 240.8L697.1 241.1L697.7 241.6L698.3 241.7L698.9 240.1L699.6 241.3L700.2 232.7L700.8 228.7L701.4 225.2L702.0 221.3L702.7 215.4L703.3 210.5L703.9 206.0L704.5 201.7L705.1 205.3L705.8 206.7L706.4 207.6L707.0 209.5L707.6 211.1L708.2 214.6L708.9 217.5L709.5 218.7L710.1 221.0L710.7 224.5L711.3 230.3L712.0 230.5L712.6 230.7L713.2 231.2L713.8 227.5L714.4 226.2L715.1 223.9L715.7 224.3L716.3 228.5L716.9 232.8L717.5 230.6L718.2 234.0L718.8 234.1L719.4 235.7L720.0 240.0L720.6 246.0L721.3 252.3L721.9 252.2L722.5 255.4L723.1 256.3L723.7 254.9L724.4 251.8L725.0 249.1L725.6 243.0L726.2 241.9L726.8 243.6L727.5 244.9L728.1 244.4L728.7 244.4L729.3 245.2L729.9 246.2L730.6 247.3L731.2 251.2L731.8 252.7L732.4 250.6L733.0 248.9L733.7 248.6L734.3 253.1L734.9 252.8L735.5 257.1L736.1 255.9L736.8 254.9L737.4 254.6L738.0 255.4L738.6 257.3L739.2 256.3L739.9 255.6L740.5 254.6L741.1 256.3L741.7 255.6L742.3 256.9L743.0 258.4L743.6 258.3L744.2 258.5L744.8 259.3L745.4 262.3L746.1 262.6L746.7 263.5L747.3 263.0L747.9 261.6L748.5 261.6L749.2 259.2L749.8 258.8L750.4 256.5L751.0 254.7L751.6 255.6L752.3 256.3L752.9 254.1L753.5 252.9L754.1 253.3L754.7 249.2L755.4 248.2L756.0 246.5L756.6 246.0L757.2 243.4L757.8 242.6L758.5 244.2L759.1 241.1L759.7 240.8L760.3 243.1L760.9 241.7L761.6 241.3L762.2 246.9L762.8 246.2L763.4 243.0L764.0 243.5L764.7 239.1L765.3 238.8L765.9 233.2L766.5 237.2L767.1 244.0L767.8 250.9L768.4 251.5L769.0 247.5L769.6 241.3L770.2 237.1L770.9 234.4L771.5 234.2L772.1 236.2L772.7 239.8L773.3 241.2L774.0 242.4L774.6 242.0L775.2 244.3L775.8 247.5L776.4 250.0L777.1 249.7L777.7 252.3L778.3 252.8L778.9 252.6L779.5 249.2L780.2 251.4L780.8 246.4L781.4 243.4L782.0 240.6L782.6 235.3L783.3 231.7L783.9 227.1L784.5 226.4L785.1 223.9L785.7 223.7L786.4 221.5L787.0 219.7L787.6 220.7L788.2 222.6L788.8 222.7L789.5 227.6L790.1 227.1L790.7 229.6L791.3 229.4L791.9 231.7L792.6 234.4L793.2 238.1L793.8 236.6L794.4 239.5L795.0 241.2L795.7 244.7L796.3 245.8L796.9 249.2L797.5 254.0L798.1 257.4L798.8 260.2L799.4 259.1L800.0 256.1L800.6 253.2L801.2 250.1L801.9 248.8L802.5 247.5L803.1 245.2L803.7 243.9L804.3 243.3L805.0 241.9L805.6 237.0L806.2 234.4L806.8 232.9L807.4 227.9L808.1 223.2L808.7 223.6L809.3 224.5L809.9 222.1L810.5 218.6L811.2 216.1L811.8 215.1L812.4 212.3L813.0 212.1L813.6 211.2L814.3 208.5L814.9 205.3L815.5 205.5L816.1 206.9L816.7 209.3L817.4 210.8L818.0 212.8L818.6 213.5L819.2 218.6L819.8 220.3L820.5 220.9L821.1 223.8L821.7 227.4L822.3 230.2L822.9 231.3L823.6 234.8L824.2 236.5L824.8 239.3L825.4 238.6L826.0 242.2L826.7 243.5L827.3 245.6L827.9 247.0L828.5 249.0L829.1 251.4L829.8 251.8L830.4 251.9L831.0 254.1L831.6 256.0L832.2 258.1L832.9 259.9L833.5 261.3L834.1 264.1L834.7 267.6L835.3 269.1L836.0 269.9L836.6 265.3L837.2 264.6L837.8 262.4L838.4 264.5L839.1 264.2L839.7 263.9L840.3 263.7L840.9 261.7L841.5 262.0L842.2 260.9L842.8 260.2L843.4 259.2L844.0 259.4L844.6 258.0L845.3 254.2L845.9 254.3L846.5 254.2L847.1 254.0L847.7 250.4L848.4 249.5L849.0 251.4L849.6 257.5L850.2 256.3L850.8 252.7L851.5 247.4L852.1 241.6L852.7 236.1L853.3 230.0L853.9 224.4L854.6 219.5L855.2 216.6L855.8 217.3L856.4 217.6L857.0 215.8L857.7 218.6L858.3 225.2L858.9 233.9L859.5 244.4L860.1 249.7L860.8 248.6L861.4 250.3L862.0 251.7L862.6 250.8L863.2 251.2L863.9 251.4L864.5 253.0L865.1 257.2L865.7 256.7L866.3 258.8L867.0 256.3L867.6 257.1L868.2 253.9L868.8 252.7L869.4 251.9L870.1 247.5L870.7 241.2L871.3 234.2L871.9 224.2L872.5 212.8L873.2 201.8L873.8 185.6L874.4 188.0L875.0 196.4L875.6 205.5L876.3 208.6L876.9 215.9L877.5 207.2L878.1 197.3L878.7 191.3L879.4 185.5L880.0 178.4L880.6 171.5L881.2 165.8L881.8 160.7L882.5 158.7L883.1 158.8L883.7 161.1L884.3 162.9L884.9 160.1L885.6 160.7L886.2 159.6L886.8 161.8L887.4 161.2L888.0 166.9L888.7 173.3L889.3 183.2L889.9 190.5L890.5 199.5L891.1 195.1L891.8 191.5L892.4 188.9L893.0 193.1L893.6 197.5L894.2 201.5L894.9 196.2L895.5 192.0L896.1 185.2L896.7 178.1L897.3 171.5L898.0 163.9L898.6 157.5L899.2 150.1L899.8 144.2L900.4 139.5L901.1 139.9L901.7 139.1L902.3 141.0L902.9 143.0L903.5 139.7L904.2 138.6L904.8 140.5L905.4 140.6L906.0 141.2L906.6 142.8L907.3 146.6L907.9 151.0L908.5 152.4L909.1 150.6L909.7 149.3L910.4 147.9L911.0 149.7L911.6 152.7L912.2 150.1L912.8 149.5L913.5 148.6L914.1 146.0L914.7 146.4L915.3 145.2L915.9 145.5L916.6 144.5L917.2 145.5L917.8 149.3L918.4 147.9L919.0 147.9L919.7 148.5L920.3 153.8L920.9 156.1L921.5 159.4L922.1 160.0L922.8 162.5L923.4 163.8L924.0 165.1L924.6 166.4L925.2 168.2L925.9 177.3L926.5 188.2L927.1 187.1L927.7 185.8L928.3 182.4L929.0 176.1L929.6 179.3L930.2 177.6L930.8 180.8L931.4 180.0L932.1 182.6L932.7 186.0L933.3 193.5L933.9 198.9L934.5 206.0L935.2 207.2L935.8 207.6L936.4 210.7L937.0 212.3L937.6 206.5L938.3 201.1L938.9 197.4L939.5 194.5L940.1 193.8L940.7 200.9L941.4 209.1L942.0 213.4L942.6 217.3L943.2 222.8L943.8 227.2L944.5 232.2L945.1 233.8L945.7 236.3L946.3 239.1L946.9 241.4L947.6 242.0L948.2 244.7L948.8 248.9L949.4 253.1L950.0 252.9L950.7 255.2L951.3 259.4L951.9 259.8L952.5 261.7L953.1 261.9L953.8 262.6L954.4 263.5L955.0 265.2L955.6 264.3L956.2 262.6L956.9 265.4L957.5 266.8L958.1 267.4L958.7 266.9L959.3 267.4L960.0 268.0L960.6 268.4L961.2 268.6L961.8 264.4L962.4 263.8L963.1 266.0L963.7 266.9L964.3 268.5L964.9 266.9L965.5 267.6L966.2 266.5L966.8 268.8L967.4 271.4L968.0 272.0L968.6 271.5L969.3 271.1L969.9 269.8L970.5 270.7L971.1 269.2L971.7 270.4L972.4 271.3L973.0 270.6L973.6 270.8L974.2 268.8L974.8 269.6L975.5 270.1L976.1 271.1L976.7 272.0L977.3 274.6L977.9 271.7L978.6 270.8L979.2 270.4L979.8 272.4L980.4 273.4L981.0 275.1L981.7 273.7L982.3 271.7L982.9 269.8L983.5 270.0L984.1 266.5L984.8 265.6L985.4 266.2L986.0 270.5L986.6 271.2L987.2 270.1L987.9 273.2L988.5 272.9L989.1 273.7L989.7 274.9L990.3 272.6L991.0 275.1L991.6 275.1L992.2 275.1L992.8 275.1L993.4 275.1L994.1 275.1L994.7 275.1L995.3 273.6L995.9 272.2L996.5 272.2L997.2 271.3" stroke="#3b78c4" stroke-width="3.6" stroke-linejoin="round" stroke-linecap="round" fill="none"/>
<path d="M580.8 104.3V276.4M574.8 275.4H580.8M574.8 254.1H580.8M574.8 232.9H580.8M574.8 211.6H580.8M574.8 190.3H580.8M574.8 169.1H580.8M574.8 147.8H580.8M574.8 126.6H580.8M574.8 105.3H580.8M579.8 275.4H992.0M581.0 275.4V281.2M607.1 275.4V281.2M633.3 275.4V281.2M659.5 275.4V281.2M685.6 275.4V281.2M711.8 275.4V281.2M737.9 275.4V281.2M764.0 275.4V281.2M790.2 275.4V281.2M816.4 275.4V281.2M842.5 275.4V281.2M868.6 275.4V281.2M894.8 275.4V281.2M921.0 275.4V281.2M947.1 275.4V281.2M973.2 275.4V281.2" stroke="#0a0a0a" stroke-width="2.3" fill="none"/>
<text transform="translate(567.20 281.00) scale(1.070 1)" font-size="15.00" text-anchor="end" fill="#242424">0</text>
<text transform="translate(567.20 259.74) scale(1.070 1)" font-size="15.00" text-anchor="end" fill="#242424">10</text>
<text transform="translate(567.20 238.47) scale(1.070 1)" font-size="15.00" text-anchor="end" fill="#242424">20</text>
<text transform="translate(567.20 217.21) scale(1.070 1)" font-size="15.00" text-anchor="end" fill="#242424">30</text>
<text transform="translate(567.20 195.95) scale(1.070 1)" font-size="15.00" text-anchor="end" fill="#242424">40</text>
<text transform="translate(567.20 174.69) scale(1.070 1)" font-size="15.00" text-anchor="end" fill="#242424">50</text>
<text transform="translate(567.20 153.42) scale(1.070 1)" font-size="15.00" text-anchor="end" fill="#242424">60</text>
<text transform="translate(567.20 132.16) scale(1.070 1)" font-size="15.00" text-anchor="end" fill="#242424">70</text>
<text transform="translate(567.20 110.90) scale(1.070 1)" font-size="15.00" text-anchor="end" fill="#242424">80</text>
<text transform="translate(585.40 285.20) rotate(-90) scale(1.07 1)" stroke-width="0.2" font-size="15.0" text-anchor="end" fill="#242424">2021/01</text>
<text transform="translate(611.55 285.20) rotate(-90) scale(1.07 1)" stroke-width="0.2" font-size="15.0" text-anchor="end" fill="#242424">2021/03</text>
<text transform="translate(637.70 285.20) rotate(-90) scale(1.07 1)" stroke-width="0.2" font-size="15.0" text-anchor="end" fill="#242424">2021/05</text>
<text transform="translate(663.85 285.20) rotate(-90) scale(1.07 1)" stroke-width="0.2" font-size="15.0" text-anchor="end" fill="#242424">2021/07</text>
<text transform="translate(690.00 285.20) rotate(-90) scale(1.07 1)" stroke-width="0.2" font-size="15.0" text-anchor="end" fill="#242424">2021/09</text>
<text transform="translate(716.15 285.20) rotate(-90) scale(1.07 1)" stroke-width="0.2" font-size="15.0" text-anchor="end" fill="#242424">2021/11</text>
<text transform="translate(742.30 285.20) rotate(-90) scale(1.07 1)" stroke-width="0.2" font-size="15.0" text-anchor="end" fill="#242424">2022/01</text>
<text transform="translate(768.45 285.20) rotate(-90) scale(1.07 1)" stroke-width="0.2" font-size="15.0" text-anchor="end" fill="#242424">2022/03</text>
<text transform="translate(794.60 285.20) rotate(-90) scale(1.07 1)" stroke-width="0.2" font-size="15.0" text-anchor="end" fill="#242424">2022/05</text>
<text transform="translate(820.75 285.20) rotate(-90) scale(1.07 1)" stroke-width="0.2" font-size="15.0" text-anchor="end" fill="#242424">2022/07</text>
<text transform="translate(846.90 285.20) rotate(-90) scale(1.07 1)" stroke-width="0.2" font-size="15.0" text-anchor="end" fill="#242424">2022/09</text>
<text transform="translate(873.05 285.20) rotate(-90) scale(1.07 1)" stroke-width="0.2" font-size="15.0" text-anchor="end" fill="#242424">2022/11</text>
<text transform="translate(899.20 285.20) rotate(-90) scale(1.07 1)" stroke-width="0.2" font-size="15.0" text-anchor="end" fill="#242424">2023/01</text>
<text transform="translate(925.35 285.20) rotate(-90) scale(1.07 1)" stroke-width="0.2" font-size="15.0" text-anchor="end" fill="#242424">2023/03</text>
<text transform="translate(951.50 285.20) rotate(-90) scale(1.07 1)" stroke-width="0.2" font-size="15.0" text-anchor="end" fill="#242424">2023/05</text>
<text transform="translate(977.65 285.20) rotate(-90) scale(1.07 1)" stroke-width="0.2" font-size="15.0" text-anchor="end" fill="#242424">2023/07</text>
<path d="M622.3 69.6H659.6" stroke="#bd1020" stroke-width="3.7" stroke-linecap="round" fill="none"/>
<text transform="translate(664.90 75.90) scale(1.030 1)" font-size="14.80" fill="#242424">1</text>
<text class="cjk" x="671.26" y="75.90" font-size="15.4" fill="#242424" style="stroke:none">年</text>
<path d="M706.5 69.6H743.5" stroke="#1f1416" stroke-width="3.7" stroke-linecap="round" fill="none"/>
<text transform="translate(748.30 75.90) scale(1.030 1)" font-size="14.80" fill="#242424">3</text>
<text class="cjk" x="757.06" y="75.90" font-size="15.4" fill="#242424" style="stroke:none">年</text>
<path d="M790.4 69.6H828" stroke="#e8788c" stroke-width="3.7" stroke-linecap="round" fill="none"/>
<text transform="translate(832.80 75.90) scale(1.030 1)" font-size="14.80" fill="#242424">5</text>
<text class="cjk" x="840.76" y="75.90" font-size="15.4" fill="#242424" style="stroke:none">年</text>
<path d="M874.5 69.6H911.5" stroke="#3e6ea6" stroke-width="3.7" stroke-linecap="round" fill="none"/>
<text transform="translate(916.70 75.90) scale(1.030 1)" font-size="14.80" fill="#242424">10</text>
<text class="cjk" x="933.26" y="75.90" font-size="15.4" fill="#242424" style="stroke:none">年</text>
<g filter="url(#wmsh)" opacity="0.93"><g transform="translate(883.2 364.2) skewX(-6)"><text class="cjk" x="-2.13 22.17 46.47 70.77" y="0" font-size="24.5" font-weight="300" fill="#ffffff" style="stroke:#9c9c9c;stroke-width:0.735px;stroke-opacity:0.8;paint-order:stroke">明晰笔谈</text></g><g fill="#fff" stroke="#a8a8a8" stroke-width="0.6" stroke-opacity="0.7" paint-order="stroke"><ellipse cx="846.5" cy="350.3" rx="11" ry="9.8"/><path d="M839.5 357l-3.4 5 7.4-2.6z"/><ellipse cx="864.6" cy="356.8" rx="11.4" ry="9.8"/><path d="M868.5 365l4.6 4-0.6-6.2z"/></g></g>
<g fill="#c4c4c4"><ellipse cx="859.4" cy="353.6" rx="1.5" ry="1.2"/><ellipse cx="867.6" cy="353.6" rx="1.5" ry="1.2"/></g>
<rect x="-10" y="171" width="1034" height="57.5" fill="#1663de" fill-opacity="0.70"/>
<g><text class="cjk" x="342.00" y="211.30" font-size="30" font-weight="900" fill="#ffffff" style="stroke:#fff;stroke-width:0.6px;stroke-linejoin:round">债市最新走势预测及分析</text></g></g></svg>
</div>
</body>
</html>
